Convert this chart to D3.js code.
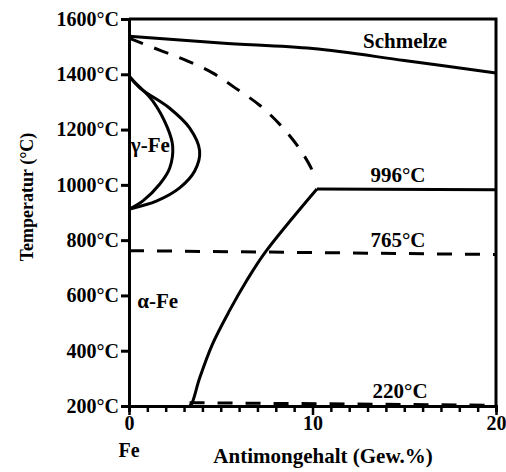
<!DOCTYPE html>
<html>
<head>
<meta charset="utf-8">
<script src="https://cdn.jsdelivr.net/npm/d3@7"></script>
<style>
  body { margin: 0; background: #fff; }
  svg text { font-family: "Liberation Serif", "DejaVu Serif", serif; font-weight: bold; fill: #000; }
</style>
</head>
<body>
<svg id="chart"></svg>
<script>
const width = 506;
const height = 472;

// Daten: [Sb Gew.%, Temperatur °C]
const yTicks = [200, 400, 600, 800, 1000, 1200, 1400, 1600];
const xTicks = d3.range(0, 21);
const xLabels = [0, 10, 20];

const liquidus = [[0, 1538], [5, 1513], [10, 1493], [15, 1450], [20, 1405]];
const gammaDashed = [[0, 1531], [1.8, 1484], [3.2, 1448], [4.55, 1405], [5.8, 1350], [7.1, 1289],
  [8.24, 1217], [9.27, 1133], [9.97, 1054], [10.1, 1022]];
const gammaOuter = [[0, 1394], [0.6, 1350], [2.2, 1278], [3.3, 1206], [3.85, 1123], [3.58, 1050],
  [2.76, 989], [1.52, 942], [0, 912]];
const gammaInner = [[0, 1394], [0.25, 1376], [1.3, 1303], [2.1, 1206], [2.38, 1140], [2.22, 1061],
  [1.68, 1003], [0.76, 942], [0, 912]];
const solvus = [[10.24, 985], [7.4, 754], [6.4, 652], [5.47, 544], [4.55, 424],
  [3.85, 301], [3.41, 207], [3.3, 200]];
const eutectoid996 = [[10.24, 985], [20, 982]];
const curie765 = [[0, 762], [20, 748]];
const line220 = [[3.3, 212], [19.5, 203]];

const labels = [
  { text: "Schmelze", x: 15.04, y: 1495, anchor: "middle" },
  { text: "996°C", x: 14.66, y: 1010, anchor: "middle" },
  { text: "765°C", x: 14.66, y: 775, anchor: "middle" },
  { text: "220°C", x: 14.77, y: 229, anchor: "middle" },
  { text: "γ-Fe", x: 0.1, y: 1119, anchor: "start" },
  { text: "α-Fe", x: 0.45, y: 555, anchor: "start" }
];

const svg = d3.select("#chart")
  .attr("width", width)
  .attr("height", height)
  .attr("viewBox", `0 0 ${width} ${height}`);

svg.append("rect")
  .attr("width", width)
  .attr("height", height)
  .attr("fill", "#fff");

const x = d3.scaleLinear().domain([0, 20]).range([129, 496]);
const y = d3.scaleLinear().domain([200, 1600]).range([406, 19]);

// Rahmen oben und rechts
svg.append("path")
  .attr("d", `M${x(0)},${y(1600)}H${x(20)}V${y(200)}`)
  .attr("fill", "none")
  .attr("stroke", "#000")
  .attr("stroke-width", 3);

// Achsen
const yAxis = svg.append("g")
  .attr("transform", `translate(${x(0)},0)`)
  .call(d3.axisLeft(y).tickValues(yTicks).tickSize(8).tickPadding(2).tickFormat(d => d + "°C"));

yAxis.select(".domain").attr("stroke-width", 3);
yAxis.selectAll(".tick line").attr("stroke-width", 3);
yAxis.selectAll("text").attr("font-size", 20).attr("font-family", null);

const xAxis = svg.append("g")
  .attr("transform", `translate(0,${y(200)})`)
  .call(d3.axisBottom(x).tickValues(xTicks).tickSize(6).tickPadding(4)
    .tickFormat(d => xLabels.includes(d) ? d : ""));

xAxis.select(".domain").attr("stroke-width", 3);
xAxis.selectAll(".tick line")
  .attr("stroke-width", 2.5)
  .attr("y2", d => xLabels.includes(d) ? 9 : 6);
xAxis.selectAll("text").attr("font-size", 20).attr("font-family", null);

// Kurven
const line = d3.line().x(d => x(d[0])).y(d => y(d[1]));
const smooth = d3.line().x(d => x(d[0])).y(d => y(d[1])).curve(d3.curveCatmullRom.alpha(0.5));

const curves = [
  { data: liquidus, gen: smooth, dash: null },
  { data: gammaDashed, gen: smooth, dash: "15,12" },
  { data: gammaOuter, gen: smooth, dash: null },
  { data: gammaInner, gen: smooth, dash: null },
  { data: solvus, gen: smooth, dash: null },
  { data: eutectoid996, gen: line, dash: null },
  { data: curie765, gen: line, dash: "15,13" },
  { data: line220, gen: line, dash: "15,13" }
];

svg.append("g").selectAll("path")
  .data(curves)
  .join("path")
  .attr("d", d => d.gen(d.data))
  .attr("fill", "none")
  .attr("stroke", "#000")
  .attr("stroke-width", 3)
  .attr("stroke-dasharray", d => d.dash);

// Beschriftungen
svg.append("g").selectAll("text")
  .data(labels)
  .join("text")
  .attr("x", d => x(d.x))
  .attr("y", d => y(d.y))
  .attr("text-anchor", d => d.anchor)
  .attr("font-size", 21)
  .text(d => d.text);

svg.append("text")
  .attr("x", x(0))
  .attr("y", 457)
  .attr("text-anchor", "middle")
  .attr("font-size", 20)
  .text("Fe");

svg.append("text")
  .attr("x", 323)
  .attr("y", 463)
  .attr("text-anchor", "middle")
  .attr("font-size", 21)
  .text("Antimongehalt (Gew.%)");

svg.append("text")
  .attr("transform", "translate(33,197) rotate(-90)")
  .attr("text-anchor", "middle")
  .attr("font-size", 18)
  .text("Temperatur (°C)");
</script>
</body>
</html>
